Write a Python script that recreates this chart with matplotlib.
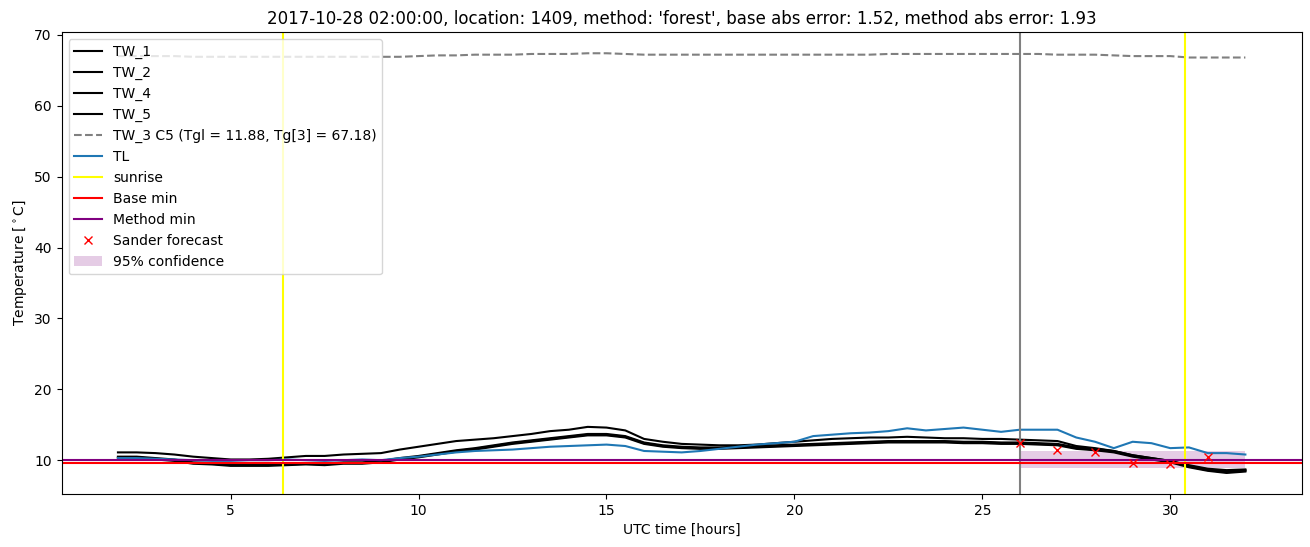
# Night-time temperature plot: road sensors, air temperature and forecast of the minimum.
import numpy as np
import matplotlib.pyplot as plt

hours = np.arange(2.0, 32.01, 0.5)  # UTC time, half-hour grid

tw_1 = [11.1, 11.1, 11.0, 10.8, 10.5, 10.3, 10.1, 10.1, 10.2, 10.4, 10.6, 10.6, 10.8, 10.9, 11.0, 11.5,
        11.9, 12.3, 12.7, 12.9, 13.1, 13.4, 13.7, 14.1, 14.3, 14.7, 14.6, 14.2, 13.0, 12.6, 12.3, 12.2,
        12.1, 12.1, 12.2, 12.4, 12.6, 12.8, 13.0, 13.1, 13.2, 13.2, 13.3, 13.2, 13.1, 13.1, 13.0, 13.0,
        12.9, 12.8, 12.7, 12.0, 11.7, 11.3, 10.7, 10.3, 9.9, 9.3, 8.8, 8.6, 8.7]
tw_2 = [10.5, 10.5, 10.3, 10.1, 9.7, 9.6, 9.4, 9.4, 9.4, 9.5, 9.6, 9.5, 9.7, 9.7, 9.9, 10.3,
        10.6, 11.0, 11.4, 11.7, 12.1, 12.5, 12.8, 13.1, 13.4, 13.7, 13.7, 13.4, 12.5, 12.1, 11.9, 11.8,
        11.8, 11.9, 12.0, 12.1, 12.2, 12.3, 12.4, 12.5, 12.6, 12.7, 12.7, 12.7, 12.7, 12.6, 12.6, 12.5,
        12.5, 12.4, 12.3, 11.8, 11.6, 11.3, 10.7, 10.3, 9.9, 9.2, 8.7, 8.4, 8.6]
tw_4 = [10.4, 10.4, 10.2, 10.0, 9.6, 9.5, 9.3, 9.3, 9.3, 9.4, 9.5, 9.4, 9.6, 9.6, 9.8, 10.2,
        10.5, 10.9, 11.3, 11.6, 12.0, 12.4, 12.7, 13.0, 13.3, 13.6, 13.6, 13.3, 12.4, 12.0, 11.8, 11.7,
        11.7, 11.8, 11.9, 12.0, 12.1, 12.2, 12.3, 12.4, 12.5, 12.6, 12.6, 12.6, 12.6, 12.5, 12.5, 12.4,
        12.4, 12.3, 12.2, 11.7, 11.5, 11.2, 10.6, 10.2, 9.8, 9.1, 8.6, 8.3, 8.5]
tw_5 = [10.3, 10.3, 10.1, 9.9, 9.5, 9.4, 9.2, 9.2, 9.2, 9.3, 9.4, 9.3, 9.5, 9.5, 9.7, 10.1,
        10.4, 10.8, 11.2, 11.5, 11.9, 12.3, 12.6, 12.9, 13.2, 13.5, 13.5, 13.2, 12.3, 11.9, 11.7, 11.6,
        11.6, 11.7, 11.8, 11.9, 12.0, 12.1, 12.2, 12.3, 12.4, 12.5, 12.5, 12.5, 12.5, 12.4, 12.4, 12.3,
        12.3, 12.2, 12.1, 11.6, 11.4, 11.1, 10.5, 10.1, 9.7, 9.0, 8.5, 8.2, 8.4]
tw_3 = [67.0, 67.0, 67.0, 67.0, 66.9, 66.9, 66.9, 66.9, 66.9, 66.9, 66.9, 66.9, 66.9, 66.9, 66.9, 66.9,
        67.0, 67.1, 67.1, 67.2, 67.2, 67.2, 67.3, 67.3, 67.3, 67.4, 67.4, 67.3, 67.2, 67.2, 67.2, 67.2,
        67.2, 67.2, 67.2, 67.2, 67.2, 67.2, 67.2, 67.2, 67.2, 67.3, 67.3, 67.3, 67.3, 67.3, 67.3, 67.3,
        67.3, 67.3, 67.2, 67.2, 67.2, 67.1, 67.0, 67.0, 67.0, 66.8, 66.8, 66.8, 66.8]
tl = [10.3, 10.3, 10.2, 10.1, 10.0, 9.9, 9.9, 10.0, 10.0, 10.1, 10.0, 9.9, 10.0, 10.1, 10.0, 10.3,
      10.5, 10.8, 11.1, 11.3, 11.4, 11.5, 11.7, 11.9, 12.0, 12.1, 12.2, 12.0, 11.3, 11.2, 11.1, 11.3,
      11.6, 11.9, 12.2, 12.4, 12.6, 13.4, 13.6, 13.8, 13.9, 14.1, 14.5, 14.2, 14.4, 14.6, 14.3, 14.0,
      14.3, 14.3, 14.3, 13.2, 12.6, 11.7, 12.6, 12.4, 11.7, 11.8, 11.0, 11.0, 10.8]

sunrise = [6.4, 30.4]
forecast_start = 26.0
base_min = 9.6
method_min = 10.0

forecast_hours = [26, 27, 28, 29, 30, 31]
forecast_temp = [12.4, 11.4, 11.1, 9.6, 9.5, 10.4]
conf_hours = [26, 32]
conf_low = [8.9, 8.9]
conf_high = [11.3, 11.3]

fig, ax = plt.subplots(figsize=(13.1, 5.47), dpi=100)
ax.plot(hours, tw_1, color='black', label='TW_1')
ax.plot(hours, tw_2, color='black', label='TW_2')
ax.plot(hours, tw_4, color='black', label='TW_4')
ax.plot(hours, tw_5, color='black', label='TW_5')
ax.plot(hours, tw_3, color='gray', linestyle='--', label='TW_3 C5 (Tgl = 11.88, Tg[3] = 67.18)')
ax.plot(hours, tl, color='tab:blue', label='TL')
for i, s in enumerate(sunrise):
    ax.axvline(s, color='yellow', label='sunrise' if i == 0 else None)
ax.axvline(forecast_start, color='gray')
ax.axhline(base_min, color='red', label='Base min')
ax.axhline(method_min, color='purple', label='Method min')
ax.plot(forecast_hours, forecast_temp, 'x', color='red', label='Sander forecast')
ax.fill_between(conf_hours, conf_low, conf_high, color='purple', alpha=0.2, linewidth=0,
                label='95% confidence')

ax.set_title("2017-10-28 02:00:00, location: 1409, method: 'forest', base abs error: 1.52, "
             "method abs error: 1.93")
ax.set_xlabel('UTC time [hours]')
ax.set_ylabel(r'Temperature [$^\circ$C]')
ax.legend(loc='upper left')
fig.subplots_adjust(left=0.047, right=0.9937, top=0.941, bottom=0.097)
fig.savefig('out.png', dpi=100)
